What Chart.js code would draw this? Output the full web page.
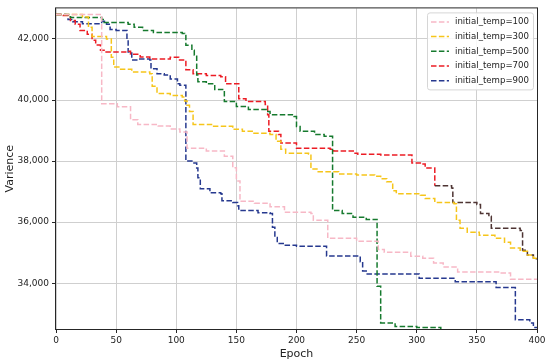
<!DOCTYPE html>
<html>
<head>
<meta charset="utf-8">
<script src="https://cdn.jsdelivr.net/npm/chart.js@4.4.0/dist/chart.umd.min.js"></script>
<style>
  html, body { margin: 0; padding: 0; background: #fff; }
</style>
</head>
<body>
<canvas id="chart" width="550" height="364"></canvas>
<script>
"use strict";

const epochTicks = [0, 50, 100, 150, 200, 250, 300, 350, 400];
const varianceTicks = [34000, 36000, 38000, 40000, 42000];

const seriesLabels = ['initial_temp=100', 'initial_temp=300', 'initial_temp=500', 'initial_temp=700', 'initial_temp=900'];

// each series: epoch where the value changes, and the new value
const temp100Epochs = [0, 38, 51, 62, 68, 85, 95, 103, 109, 125, 140, 147, 150, 153, 165, 178, 190, 212, 214, 226, 250, 268, 273, 295, 305, 314, 322, 334, 369, 378];
const temp100Values = [42800, 39880, 39780, 39350, 39200, 39150, 39050, 38950, 38420, 38330, 38160, 37780, 37350, 36680, 36620, 36500, 36320, 36280, 36060, 35470, 35370, 35100, 35010, 34880, 34820, 34660, 34530, 34370, 34330, 34130];

const temp300Epochs = [0, 22, 27, 30, 42, 46, 48, 53, 63, 78, 80, 84, 95, 105, 107, 109, 111, 114, 130, 147, 155, 164, 178, 183, 187, 191, 210, 212, 217, 235, 250, 265, 270, 275, 280, 283, 303, 307, 315, 331, 333, 336, 342, 352, 365, 373, 378, 386, 392, 397];
const temp300Values = [42800, 42720, 42380, 42080, 42000, 41400, 41080, 41010, 40920, 40860, 40450, 40210, 40150, 40100, 39970, 39830, 39620, 39200, 39140, 39040, 38980, 38910, 38870, 38650, 38390, 38260, 38230, 37740, 37650, 37580, 37540, 37500, 37420, 37320, 37030, 36930, 36880, 36770, 36640, 36600, 36060, 35800, 35670, 35570, 35470, 35340, 35150, 35050, 34920, 34820];

const temp500Epochs = [0, 12, 38, 40, 60, 65, 72, 81, 105, 107, 108, 113, 115, 117, 118, 125, 132, 140, 150, 160, 175, 178, 198, 200, 203, 215, 223, 230, 238, 247, 258, 267, 270, 282, 300, 320];
const temp500Values = [42800, 42700, 42640, 42540, 42480, 42380, 42280, 42210, 42180, 42150, 41790, 41630, 41470, 40820, 40600, 40530, 40340, 39950, 39790, 39690, 39620, 39520, 39460, 39130, 38980, 38870, 38810, 36380, 36280, 36160, 36090, 33900, 32700, 32580, 32550, 32300];

const temp700Epochs = [0, 6, 12, 16, 20, 26, 30, 33, 37, 40, 58, 62, 70, 78, 95, 102, 108, 114, 125, 137, 141, 152, 158, 174, 176, 177, 185, 187, 200, 228, 231, 248, 251, 270, 296, 303, 307, 315, 329, 330, 350, 353, 360, 362, 386, 388, 392, 397];
const temp700Values = [42800, 42770, 42600, 42480, 42280, 42150, 41960, 41800, 41630, 41570, 41600, 41500, 41410, 41340, 41400, 41310, 40990, 40860, 40800, 40760, 40530, 40040, 39950, 39850, 39520, 38980, 38870, 38590, 38420, 38390, 38330, 38260, 38220, 38200, 37940, 37900, 37770, 37190, 37120, 36640, 36580, 36280, 36190, 35800, 35730, 35080, 34920, 34800];

const temp900Epochs = [0, 8, 10, 14, 22, 38, 42, 45, 50, 59, 60, 63, 68, 78, 79, 84, 90, 95, 101, 103, 108, 113, 117, 118, 120, 128, 137, 138, 147, 151, 152, 168, 178, 180, 182, 184, 190, 200, 225, 253, 255, 258, 302, 332, 366, 382, 394, 397];
const temp900Values = [42800, 42780, 42640, 42560, 42500, 42580, 42480, 42310, 42280, 41960, 41570, 41310, 41340, 41310, 41020, 40860, 40820, 40690, 40530, 40480, 38000, 37940, 37770, 37450, 37090, 36960, 36930, 36700, 36640, 36540, 36380, 36310, 36280, 35830, 35500, 35300, 35240, 35210, 34890, 34700, 34400, 34300, 34160, 34050, 33860, 32800, 32700, 32550];

const colors = ['#f7b8c6', '#f6c51a', '#167a2e', '#ec1c24', '#26398f'];

function toPoints(epochs, values) {
    const pts = epochs.map((e, i) => ({ x: e, y: values[i] }));
    if (pts[pts.length - 1].x < 400) {
        pts.push({ x: 400, y: values[values.length - 1] });
    }
    return pts;
}

const seriesData = [
    toPoints(temp100Epochs, temp100Values),
    toPoints(temp300Epochs, temp300Values),
    toPoints(temp500Epochs, temp500Values),
    toPoints(temp700Epochs, temp700Values),
    toPoints(temp900Epochs, temp900Values)
];

const dash = [5.5, 2.4];

const datasets = seriesData.map((pts, i) => ({
    label: seriesLabels[i],
    data: pts,
    borderColor: colors[i],
    borderWidth: 1.5,
    borderDash: dash,
    pointRadius: 0,
    fill: false,
    stepped: true
}));

// the 700 line turns dark near the end
datasets[3].segment = {
    borderColor: ctx => ctx.p0.parsed.x >= 314 ? '#4e3433' : undefined
};

const frameAndLegend = {
    id: 'frameAndLegend',
    afterDraw(chart) {
        const ctx = chart.ctx;
        const a = chart.chartArea;
        ctx.save();
        ctx.strokeStyle = '#262626';
        ctx.lineWidth = 1;
        ctx.strokeRect(a.left - 0.5, a.top - 0.5, a.right - a.left + 1, a.bottom - a.top + 1);

        const x0 = a.right - 110, y0 = a.top + 4, w = 106, h = 77;
        ctx.fillStyle = 'rgba(255,255,255,0.85)';
        ctx.strokeStyle = '#d6d6d6';
        ctx.beginPath();
        ctx.roundRect(x0 + 0.5, y0 + 0.5, w, h, 2.5);
        ctx.fill();
        ctx.stroke();

        ctx.font = '8.6px "DejaVu Sans"';
        ctx.textBaseline = 'middle';
        seriesLabels.forEach((label, i) => {
            const y = y0 + 9.5 + i * 14.7;
            ctx.strokeStyle = colors[i];
            ctx.lineWidth = 1.5;
            ctx.setLineDash(dash);
            ctx.beginPath();
            ctx.moveTo(x0 + 4, y);
            ctx.lineTo(x0 + 22, y);
            ctx.stroke();
            ctx.setLineDash([]);
            ctx.fillStyle = '#222';
            ctx.fillText(label, x0 + 28, y);
        });
        ctx.restore();
    }
};

Chart.defaults.font.family = '"DejaVu Sans", sans-serif';
Chart.defaults.color = '#222';

new Chart(document.getElementById('chart').getContext('2d'), {
    type: 'line',
    data: { datasets: datasets },
    plugins: [frameAndLegend],
    options: {
        responsive: false,
        animation: false,
        devicePixelRatio: 1,
        layout: { padding: { top: 6, right: 13, left: 0, bottom: 0 } },
        plugins: {
            legend: { display: false },
            tooltip: { enabled: false }
        },
        scales: {
            x: {
                type: 'linear',
                min: 0,
                max: 400,
                afterBuildTicks: scale => { scale.ticks = epochTicks.map(v => ({ value: v })); },
                afterFit: scale => { scale.height = 35; },
                ticks: { font: { size: 9 }, padding: 2, maxRotation: 0 },
                grid: { color: '#cfcfcf', tickColor: '#262626', tickLength: 4 },
                border: { display: false },
                title: { display: true, text: 'Epoch', font: { size: 11 }, padding: { top: 0, bottom: 3 } }
            },
            y: {
                min: 32500,
                max: 43000,
                afterBuildTicks: scale => { scale.ticks = varianceTicks.map(v => ({ value: v })); },
                afterFit: scale => { scale.width = 56; },
                ticks: {
                    font: { size: 9 },
                    padding: 3,
                    callback: v => v.toLocaleString('en-US')
                },
                grid: { color: '#cfcfcf', tickColor: '#262626', tickLength: 4 },
                border: { display: false },
                title: { display: true, text: 'Varience', font: { size: 11 }, padding: { top: 4, bottom: 0 } }
            }
        }
    }
});
</script>
</body>
</html>
